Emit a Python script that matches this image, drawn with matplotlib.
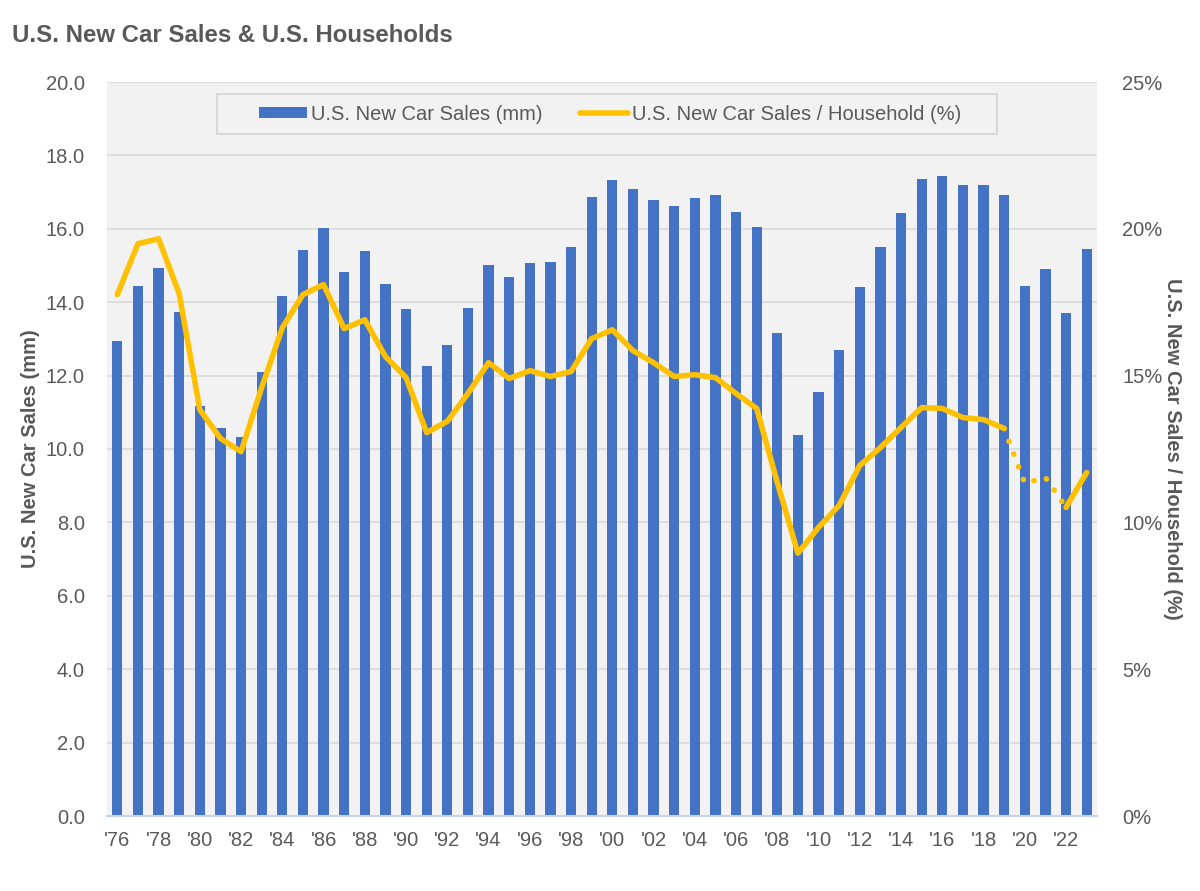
import matplotlib
matplotlib.use("Agg")
import matplotlib.pyplot as plt
from matplotlib.patches import Rectangle
from matplotlib.ticker import FuncFormatter

plt.rcParams['font.family'] = ['Liberation Sans', 'DejaVu Sans']

years = list(range(1976, 2024))
sales_mm = [12.95, 14.45, 14.94, 13.74, 11.18, 10.56, 10.34, 12.11, 14.18, 15.43,
            16.03, 14.83, 15.40, 14.50, 13.82, 12.27, 12.84, 13.85, 15.02, 14.69,
            15.07, 15.10, 15.51, 16.87, 17.33, 17.09, 16.79, 16.63, 16.85, 16.93,
            16.46, 16.05, 13.17, 10.39, 11.54, 12.71, 14.42, 15.51, 16.44, 17.36,
            17.44, 17.20, 17.20, 16.93, 14.45, 14.91, 13.71, 15.46]
sales_per_household = [17.76, 19.49, 19.66, 17.79, 13.84, 12.86, 12.41, 14.59, 16.63, 17.76,
                       18.10, 16.60, 16.90, 15.65, 14.93, 13.06, 13.44, 14.39, 15.44, 14.90,
                       15.17, 14.97, 15.14, 16.26, 16.56, 15.85, 15.44, 14.97, 15.03, 14.93,
                       14.39, 13.88, 11.36, 8.95, 9.83, 10.58, 11.94, 12.55, 13.23, 13.91,
                       13.88, 13.57, 13.50, 13.20, 11.33, 11.53, 10.51, 11.70]
tick_labels = ["'%02d" % (y % 100) for y in years]

BLUE = '#4472C4'
GOLD = '#FFC000'
GRID = '#D9D9D9'
TXT = '#595959'
BG = '#F2F2F2'
FS = 14.5

fig = plt.figure(figsize=(12, 8.91), dpi=100)
ax1 = fig.add_axes([107/1200, 75/891, 990/1200, 734/891])
ax2 = ax1.twinx()

x = list(range(len(years)))
ax1.set_facecolor(BG)
bars = ax1.bar(x, sales_mm, width=0.5, color=BLUE, zorder=2,
               label='U.S. New Car Sales (mm)')
ax1.set_xlim(-0.5, len(years) - 0.5)
ax1.set_ylim(0, 20)
ax1.set_yticks([0, 2, 4, 6, 8, 10, 12, 14, 16, 18, 20])
ax1.yaxis.set_major_formatter(FuncFormatter(lambda v, p: '%.1f' % v))
ax1.set_xticks(x[::2])
ax1.set_xticklabels(tick_labels[::2])
ax1.grid(axis='y', color=GRID, linewidth=1.2, zorder=0)
ax1.set_axisbelow(True)
ax1.tick_params(axis='both', length=0, labelsize=FS, labelcolor=TXT)
ax1.tick_params(axis='y', pad=16)
ax1.tick_params(axis='x', pad=11)
for s in ['top', 'left', 'right']:
    ax1.spines[s].set_visible(False)
ax1.spines['bottom'].set_color('#C9D3E6')
ax1.spines['bottom'].set_linewidth(1.5)
ax1.set_ylabel('U.S. New Car Sales (mm)', fontsize=FS, fontweight='bold',
               color=TXT, labelpad=4)

# line: solid through 2019, dotted 2019-2022, solid 2022-2023
i19 = years.index(2019)
i22 = years.index(2022)
LW = 4.0
line, = ax2.plot(x[:i19 + 1], sales_per_household[:i19 + 1], color=GOLD, lw=LW,
                 solid_joinstyle='round', solid_capstyle='round', zorder=3,
                 label='U.S. New Car Sales / Household (%)')
ax2.plot(x[i19:i22 + 1], sales_per_household[i19:i22 + 1], color=GOLD, lw=LW,
         linestyle=(0, (0.05, 2.4)), dash_capstyle='round', zorder=3)
ax2.plot(x[i22:], sales_per_household[i22:], color=GOLD, lw=LW,
         solid_joinstyle='round', solid_capstyle='round', zorder=3)
ax2.set_ylim(0, 25)
ax2.set_yticks([0, 5, 10, 15, 20, 25])
ax2.yaxis.set_major_formatter(FuncFormatter(lambda v, p: '%d%%' % v))
ax2.tick_params(axis='y', length=0, labelsize=FS, labelcolor=TXT, pad=18)
for s in ['top', 'left', 'right', 'bottom']:
    ax2.spines[s].set_visible(False)
ax2.set_ylabel('U.S. New Car Sales / Household (%)', fontsize=FS, fontweight='bold',
               color=TXT, rotation=-90, labelpad=14)

# legend box
ax2.add_patch(Rectangle(((217 - 107) / 990, (816 - 134) / 734), 780 / 990, 40 / 734,
                        transform=ax2.transAxes, facecolor=BG, edgecolor=GRID,
                        linewidth=1.5, zorder=4))
leg = ax2.legend([bars, line], ['U.S. New Car Sales (mm)', 'U.S. New Car Sales / Household (%)'],
                 loc='center', bbox_to_anchor=((610 - 107) / 990, (816 - 114) / 734),
                 ncol=2, frameon=False, fontsize=FS, handlelength=2.4,
                 handleheight=0.5, handletextpad=0.2, columnspacing=1.85,
                 labelcolor=TXT)
leg.set_zorder(5)

fig.text(12 / 1200, 1 - 35 / 891, 'U.S. New Car Sales & U.S. Households',
         fontsize=17.3, fontweight='bold', color=TXT, va='center', ha='left')

fig.savefig('out.png', dpi=100, facecolor='white')
